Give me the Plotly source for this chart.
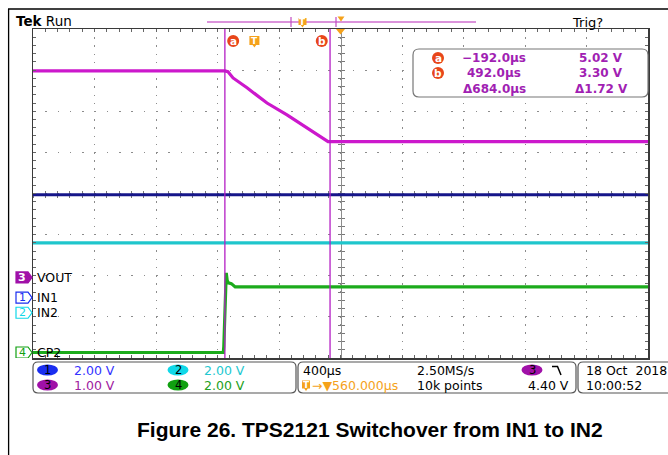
import plotly.graph_objects as go

W, H = 668, 455          # browser window / figure size
OX, OY = 0, 0
FW, FH = W, H

# ---------------- data ----------------
# time in microseconds relative to the trigger, voltages in volts
t_vout = [-1440, -192, -172, -139, -48, 82, 212, 342, 446, 479, 492, 2560]
v_vout = [5.02, 5.02, 5.00, 4.85, 4.61, 4.24, 3.95, 3.63, 3.37, 3.30, 3.30, 3.30]

t_in1 = [-1440, 2560]
v_in1 = [5.00, 5.00]

t_in2 = [-1440, 2560]
v_in2 = [3.40, 3.40]

t_cp2 = [-1440, -202, -199, -196, -188, -183, -177, -170, -150, -125, 2560]
v_cp2 = [0.00, 0.00, 0.30, 1.07, 2.54, 3.87, 3.50, 3.39, 3.35, 3.19, 3.19]

cursor_names = ["a", "b"]
cursor_t = [-192.0, 492.0]
cursor_v = [5.02, 3.30]

# scope settings
ch_labels = ["IN1", "IN2", "VOUT", "CP2"]
ch_numbers = ["1", "2", "3", "4"]
ch_scale = [2.00, 2.00, 1.00, 2.00]          # V/div
ch_ground = [-2.53, -2.90, -2.04, -3.866]     # ground marker, divisions from centre
time_per_div = 400                             # µs/div
horiz_pos = 560.0                              # µs, trigger -> centre
sample_rate = "2.50MS/s"
record_len = "10k points"
trig_level = 4.40
date_str = "18 Oct  2018"
time_str = "10:00:52"
caption = "Figure 26. TPS2121 Switchover from IN1 to IN2"

# ---------------- styling ----------------
UI = "DejaVu Sans"
ch_color = ["#16168a", "#1fc6cc", "#cc18cc", "#1cab1c"]
ch_text_color = ["#3333ff", "#22c8d0", "#a020a0", "#22a022"]
ch_pill = ["#1a2ef0", "#10d8e8", "#a010a8", "#10a010"]
ORANGE = "#f5a21b"
CURSOR = "#b41ec4"
RED = "#e8461a"

GX0, GX1, GY0, GY1 = 33, 648, 29, 358


def X(x):
    return (x - OX) / FW


def Y(y):
    return 1 - (y - OY) / FH


t_left = horiz_pos - 5 * time_per_div
t_right = horiz_pos + 5 * time_per_div

fig = go.Figure()
# base subplot (graticule)
fig.add_trace(go.Scatter(x=[None], y=[None], xaxis="x", yaxis="y", showlegend=False, hoverinfo="skip"))
# centre cross-hair subplots
fig.add_trace(go.Scatter(x=[None], y=[None], xaxis="x2", yaxis="y6", showlegend=False, hoverinfo="skip"))
fig.add_trace(go.Scatter(x=[None], y=[None], xaxis="x3", yaxis="y7", showlegend=False, hoverinfo="skip"))

axes_names = ["y2", "y3", "y4", "y5"]
order = [0, 1, 3, 2]
series = [(t_in1, v_in1), (t_in2, v_in2), (t_vout, v_vout), (t_cp2, v_cp2)]
for i in order:
    tx, vy = series[i]
    fig.add_trace(go.Scatter(x=tx, y=vy, mode="lines", xaxis="x", yaxis=axes_names[i],
                             line=dict(color=ch_color[i], width=3.2), name=ch_labels[i],
                             hoverinfo="skip", showlegend=False))

layout = dict(
    width=FW, height=FH, autosize=False,
    margin=dict(l=0, r=0, t=0, b=0),
    paper_bgcolor="white", plot_bgcolor="white",
    showlegend=False, hovermode=False,
)
layout["xaxis"] = dict(
    domain=[X(GX0), X(GX1)], range=[t_left, t_right], tick0=t_left, dtick=time_per_div,
    anchor="y",
    showgrid=True, gridcolor="#8c8c8c", gridwidth=1, griddash="1.5px,6.7px",
    showline=True, linecolor="#3a3a3a", linewidth=1.5, mirror="ticks",
    ticks="inside", ticklen=3, tickcolor="#666",
    minor=dict(dtick=time_per_div / 5, tick0=t_left, ticks="inside", ticklen=3,
               tickcolor="#666", showgrid=False),
    showticklabels=False, zeroline=False, fixedrange=True,
)
layout["yaxis"] = dict(
    domain=[Y(GY1), Y(GY0)], range=[-4, 4], tick0=0, dtick=1,
    anchor="x",
    showgrid=True, gridcolor="#8c8c8c", gridwidth=1, griddash="1.5px,10.8px",
    showline=True, linecolor="#3a3a3a", linewidth=1.5, mirror="ticks",
    ticks="inside", ticklen=3, tickcolor="#666",
    minor=dict(dtick=0.2, tick0=0, ticks="inside", ticklen=3, tickcolor="#666", showgrid=False),
    showticklabels=False, zeroline=False, fixedrange=True,
)
for k, (ax, s, g) in enumerate(zip(axes_names, ch_scale, ch_ground)):
    layout["yaxis%s" % ax[1:]] = dict(
        overlaying="y", anchor="x", domain=[Y(GY1), Y(GY0)],
        range=[(-4 - g) * s, (4 - g) * s], visible=False, fixedrange=True)

# centre cross-hair with ticks
ycen = (Y(GY0) + Y(GY1)) / 2
xcen = (X(GX0) + X(GX1)) / 2
for name, tk in (("xaxis2", "inside"), ("xaxis3", "outside")):
    layout[name] = dict(overlaying="x", anchor="free", position=ycen, range=[t_left, t_right],
                        domain=[X(GX0), X(GX1)],
                        showline=True, linecolor="#8c8c8c", linewidth=1.5, ticks=tk, ticklen=3,
                        tickcolor="#777", tick0=t_left, dtick=time_per_div / 5,
                        showgrid=False, showticklabels=False, zeroline=False,
                        layer="below traces", fixedrange=True)
for name, tk in (("yaxis6", "inside"), ("yaxis7", "outside")):
    layout[name] = dict(overlaying="y", anchor="free", position=xcen, range=[-4, 4],
                        domain=[Y(GY1), Y(GY0)],
                        showline=True, linecolor="#8c8c8c", linewidth=1.5, ticks=tk, ticklen=3,
                        tickcolor="#777", tick0=0, dtick=0.2,
                        showgrid=False, showticklabels=False, zeroline=False,
                        layer="below traces", fixedrange=True)
fig.update_layout(**layout)

shapes = []
ann = []


def txt(x, y, s, color="black", size=12.5, anchor="left", family=UI, **kw):
    d = dict(x=X(x), y=Y(y), xref="paper", yref="paper", text=s, showarrow=False,
             xanchor=anchor, yanchor="middle", font=dict(family=family, size=size, color=color))
    d.update(kw)
    ann.append(d)


def rrect(x0, y0, x1, y1, r, line="#666", fill="white", width=1.2):
    p = ("M{a},{b} L{c},{b} Q{d},{b} {d},{e} L{d},{f} Q{d},{g} {c},{g} L{a},{g} "
         "Q{h},{g} {h},{f} L{h},{e} Q{h},{b} {a},{b} Z").format(
        a=X(x0 + r), b=Y(y0), c=X(x1 - r), d=X(x1), e=Y(y0 + r), f=Y(y1 - r), g=Y(y1), h=X(x0))
    shapes.append(dict(type="path", xref="paper", yref="paper", path=p,
                       line=dict(color=line, width=width), fillcolor=fill, layer="above"))


def circle(cx, cy, rx, ry, fill):
    shapes.append(dict(type="circle", xref="paper", yref="paper", x0=X(cx - rx), x1=X(cx + rx),
                       y0=Y(cy + ry), y1=Y(cy - ry), fillcolor=fill, line=dict(width=0),
                       layer="above"))


def t_icon(cx, top, h=9, w=10):
    p = "M{l},{t} L{r},{t} L{r},{b} L{p1},{b} L{c},{tip} L{p0},{b} L{l},{b} Z".format(
        l=X(cx - w / 2), r=X(cx + w / 2), t=Y(top), b=Y(top + h), p1=X(cx + 1.8), p0=X(cx - 1.8),
        c=X(cx), tip=Y(top + h + 2.5))
    shapes.append(dict(type="path", xref="paper", yref="paper", path=p, fillcolor=ORANGE,
                       line=dict(width=0), layer="above"))
    txt(cx, top + h / 2 + 0.3, "<b>T</b>", color="white", size=9, anchor="center")


# document frame
shapes.append(dict(type="line", xref="paper", yref="paper", x0=X(8), x1=X(W + 2), y0=Y(9), y1=Y(9),
                   line=dict(color="black", width=1.3)))
shapes.append(dict(type="line", xref="paper", yref="paper", x0=X(8.6), x1=X(8.6), y0=Y(9), y1=0,
                   line=dict(color="black", width=1.3)))

# cursors
for name, ct, sgn in zip(cursor_names, cursor_t, [1, -1]):
    shapes.append(dict(type="line", xref="x", yref="paper", x0=ct, x1=ct, y0=Y(GY1), y1=Y(GY0),
                       line=dict(color=CURSOR, width=1.3), layer="above"))
    shapes.append(dict(type="circle", xref="x", yref="paper", xsizemode="pixel", xanchor=ct,
                       x0=sgn * 8.3 - 6, x1=sgn * 8.3 + 6, y0=Y(47), y1=Y(35), fillcolor=RED,
                       line=dict(width=0), layer="above"))
    ann.append(dict(x=ct, xref="x", xshift=sgn * 8.3, y=Y(41), yref="paper", text="<b>%s</b>" % name,
                    showarrow=False, xanchor="center", yanchor="middle",
                    font=dict(family=UI, size=10.5, color="white")))

# trigger icon at trigger time
p = "M-5,{t} L5,{t} L5,{b} L1.8,{b} L0,{tip} L-1.8,{b} L-5,{b} Z".format(t=Y(36), b=Y(45), tip=Y(47.5))
shapes.append(dict(type="path", xref="x", yref="paper", xsizemode="pixel", xanchor=0, path=p,
                   fillcolor=ORANGE, line=dict(width=0), layer="above"))
ann.append(dict(x=0, xref="x", y=Y(40.5), yref="paper", text="<b>T</b>", showarrow=False,
                xanchor="center", yanchor="middle", font=dict(family=UI, size=9, color="white")))

# expansion point marker at top centre of grid
cx = (GX0 + GX1) / 2
p = "M{a},{t} L{b},{t} L{c},{bt} Z".format(a=X(cx - 4.5), b=X(cx + 4.5), c=X(cx), t=Y(GY0), bt=Y(GY0 + 5.5))
shapes.append(dict(type="path", xref="paper", yref="paper", path=p, fillcolor=ORANGE,
                   line=dict(width=0), layer="above"))

# record view bar
shapes.append(dict(type="line", xref="paper", yref="paper", x0=X(207), x1=X(476), y0=Y(22), y1=Y(22),
                   line=dict(color="#cf6fcf", width=1.5)))
for bx in (291, 336):
    shapes.append(dict(type="line", xref="paper", yref="paper", x0=X(bx), x1=X(bx), y0=Y(17), y1=Y(27),
                       line=dict(color="#c24ac2", width=1.2)))
p = "M{a},{t} L{b},{t} L{c},{bt} Z".format(a=X(337.5), b=X(344.5), c=X(341), t=Y(16.5), bt=Y(21.5))
shapes.append(dict(type="path", xref="paper", yref="paper", path=p, fillcolor=ORANGE,
                   line=dict(width=0), layer="above"))
t_icon(302.5, 18, h=7, w=8)

# ground markers and channel labels
for i in range(4):
    ax = axes_names[i]
    filled = ch_numbers[i] == "3"
    p = "M{a},-5.5 L{b},-5.5 L{c},0 L{b},5.5 L{a},5.5 Z".format(a=X(16), b=X(28), c=X(32))
    shapes.append(dict(type="path", xref="paper", yref=ax, ysizemode="pixel", yanchor=0, path=p,
                       fillcolor=ch_pill[i] if filled else "white",
                       line=dict(color=ch_pill[i], width=1.2), layer="above"))
    ann.append(dict(x=X(22), xref="paper", y=0, yref=ax, text="<b>%s</b>" % ch_numbers[i] if filled else ch_numbers[i],
                    showarrow=False, xanchor="center", yanchor="middle",
                    font=dict(family=UI, size=11, color="white" if filled else ch_pill[i])))
    ann.append(dict(x=X(35), xref="paper", y=0, yref=ax, text=ch_labels[i], showarrow=False,
                    xanchor="left", yanchor="middle", font=dict(family=UI, size=12.5, color="black")))

# cursor readout box
rrect(413, 49, 648, 97, 6, line="#777")
dt = cursor_t[1] - cursor_t[0]
dv = cursor_v[0] - cursor_v[1]
rows = [(cursor_names[0], ("%.1fµs" % cursor_t[0]).replace("-", "−"), "%.2f V" % cursor_v[0]),
        (cursor_names[1], ("%.1fµs" % cursor_t[1]).replace("-", "−"), "%.2f V" % cursor_v[1]),
        (None, "Δ%.1fµs" % dt, "Δ%.2f V" % dv)]
for (nm, ts, vs), ry in zip(rows, [58, 73, 89]):
    if nm:
        circle(438, ry, 6, 6, RED)
        txt(438, ry, "<b>%s</b>" % nm, color="white", size=10.5, anchor="center")
    txt(494, ry, "<b>%s</b>" % ts, color="#a11fb3", size=12, anchor="center")
    txt(601, ry, "<b>%s</b>" % vs, color="#a11fb3", size=12, anchor="center")

# header texts
txt(14, 21, "<b>Tek</b> Run", size=13.5)
txt(570, 22, "Trig?", size=13)

# bottom status boxes
rrect(33, 362, 296, 393, 5, line="#555")
rrect(298, 362, 576, 393, 5, line="#555")
rrect(578, 362, 674, 393, 5, line="#555")
pos = {"1": (47.5, 370), "2": (178, 370), "3": (47.5, 385), "4": (178, 385)}
for i in range(4):
    cxp, cyp = pos[ch_numbers[i]]
    circle(cxp, cyp, 10.5, 5.5, ch_pill[i])
    txt(cxp, cyp, ch_numbers[i], color="black", size=11.5, anchor="center")
    txt(cxp + 24, cyp, "%.2f V" % ch_scale[i], color=ch_text_color[i], size=12.5)

txt(301, 370, "%dµs" % time_per_div, size=12.5)
txt(415, 370, sample_rate, size=12.5)
circle(532, 370, 10.5, 5.5, ch_pill[2])
txt(532, 370, "3", size=11.5, anchor="center")
shapes.append(dict(type="path", xref="paper", yref="paper",
                   path="M{a},{y0} L{b},{y0} L{c},{y1}".format(a=X(552), b=X(557.5), c=X(561), y0=Y(366.5), y1=Y(375)),
                   line=dict(color="black", width=1.5)))
t_icon(306, 380.5, h=8, w=8)
txt(310, 385, "→▼%.3fµs" % horiz_pos, color=ORANGE, size=12.5)
txt(415, 385, record_len, size=12.5)
txt(526, 385, "%.2f V" % trig_level, size=12.5)
txt(584, 370, date_str, size=12.5)
txt(584, 385, time_str, size=12.5)

# caption
txt(370, 429, "<b>%s</b>" % caption, size=21, anchor="center", family="Liberation Sans, Arial")

fig.update_layout(shapes=shapes, annotations=ann)
fig.write_html("out.html", config={"displayModeBar": False, "staticPlot": True},
               post_script="document.body.style.margin='0';document.body.style.overflow='hidden';")
